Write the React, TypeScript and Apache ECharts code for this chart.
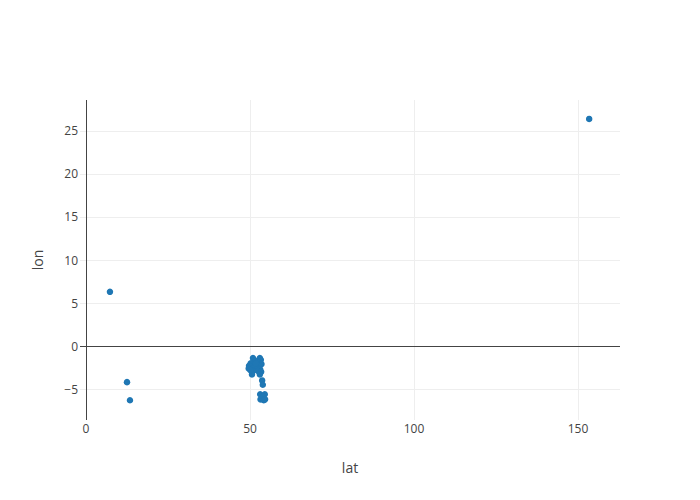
import React, { useEffect, useRef } from "react";
import * as echarts from "echarts";

const lat = [7.3, 12.5, 13.4, 153.4,
  50.9, 53.0, 53.3, 51.5, 52.2, 50.2, 49.7, 50.5, 51.6, 52.8, 53.5, 49.6, 51.2, 52.3, 53.1,
  50.8, 52.4, 53.4, 50.6, 53.0, 53.7, 53.9, 53.1, 54.5, 54.0, 53.2, 54.6, 54.2, 50.1, 51.8];
const lon = [6.3, -4.2, -6.3, 26.4,
  -1.4, -1.4, -1.6, -1.7, -1.9, -2.0, -2.3, -2.4, -2.3, -2.2, -2.1, -2.6, -2.6, -2.6, -2.7,
  -2.9, -2.9, -3.0, -3.3, -3.3, -4.0, -4.5, -5.6, -5.6, -5.9, -6.2, -6.2, -6.3, -2.8, -2.0];
const xTicks = [0, 50, 100, 150];
const yTicks = [-5, 0, 5, 10, 15, 20, 25];
const xRange = [-1.83, 162.8];
const yRange = [-8.6, 28.6];

const fmt = (v: number) => (v < 0 ? "\u2212" + Math.abs(v) : String(v));
const FONT = "'Open Sans', sans-serif";

export default function App() {
  const ref = useRef<HTMLDivElement>(null);
  useEffect(() => {
    const chart = echarts.init(ref.current!, null, { renderer: "svg" });
    const grid = { type: "solid", color: "#eeeeee", width: 1 };
    const zero = { type: "solid", color: "#444444", width: 1 };
    chart.setOption({
      animation: false,
      backgroundColor: "#ffffff",
      grid: { left: 80, right: 80, top: 100, bottom: 80, containLabel: false },
      xAxis: {
        type: "value",
        min: xRange[0],
        max: xRange[1],
        name: "lat",
        nameLocation: "middle",
        nameGap: 40,
        nameTextStyle: { fontFamily: FONT, fontSize: 14, color: "#444" },
        axisLine: { show: false },
        axisTick: { show: false },
        splitLine: { show: false },
        axisLabel: {
          customValues: xTicks,
          formatter: fmt,
          fontFamily: FONT,
          fontSize: 12,
          color: "#444",
          margin: 2,
        },
      },
      yAxis: {
        type: "value",
        min: yRange[0],
        max: yRange[1],
        name: "lon",
        nameLocation: "middle",
        nameGap: 36,
        nameTextStyle: { fontFamily: FONT, fontSize: 14, color: "#444" },
        axisLine: { show: false },
        axisTick: { show: false },
        splitLine: { show: false },
        axisLabel: {
          customValues: yTicks,
          formatter: fmt,
          fontFamily: FONT,
          fontSize: 12,
          color: "#444",
          margin: 2,
        },
      },
      series: [
        {
          type: "scatter",
          data: [],
          z: 0,
          silent: true,
          markLine: {
            silent: true,
            symbol: "none",
            label: { show: false },
            emphasis: { disabled: true },
            data: [
              ...xTicks.filter((v) => v !== 0).map((v) => ({ xAxis: v, lineStyle: grid })),
              ...yTicks.filter((v) => v !== 0).map((v) => ({ yAxis: v, lineStyle: grid })),
              { xAxis: 0, lineStyle: zero },
              { yAxis: 0, lineStyle: zero },
            ],
          },
        },
        {
          type: "scatter",
          z: 5,
          symbolSize: 6.5,
          itemStyle: { color: "#1f77b4", opacity: 1 },
          data: lat.map((x, i) => [x, lon[i]]),
        },
      ],
    });
    return () => chart.dispose();
  }, []);
  return <div ref={ref} style={{ width: 700, height: 500, position: "absolute", left: 0, top: 0 }} />;
}
